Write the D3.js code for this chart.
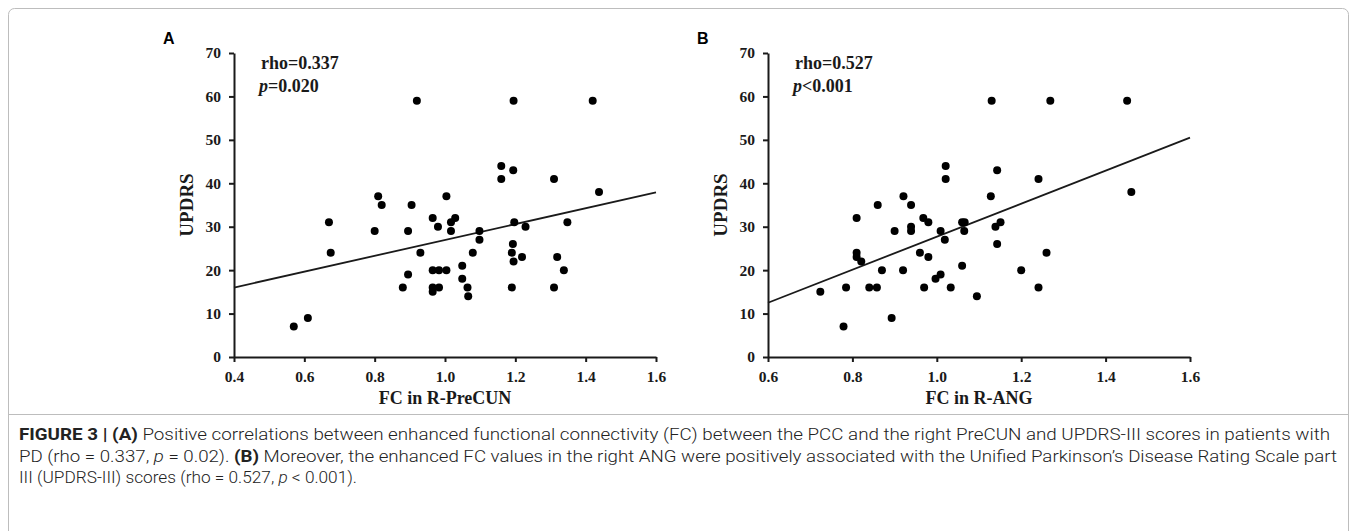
<!DOCTYPE html>
<html>
<head>
<meta charset="utf-8">
<script src="https://cdn.jsdelivr.net/npm/d3@7"></script>
<style>
  html, body { margin: 0; padding: 0; background: #fff; }
  svg { display: block; }
</style>
</head>
<body>
<svg id="chart" width="1357" height="531"></svg>
<script>
// ---------- DATA ----------
const panelLabels = ["A", "B"];
const xTitles = ["FC in R-PreCUN", "FC in R-ANG"];
const yTitle = "UPDRS";
const rhoTexts = ["rho=0.337", "rho=0.527"];
const pTexts = ["=0.020", "<0.001"];

const xTicksA = [0.4, 0.6, 0.8, 1.0, 1.2, 1.4, 1.6];
const xTicksB = [0.6, 0.8, 1.0, 1.2, 1.4, 1.6];
const yTicks = [0, 10, 20, 30, 40, 50, 60, 70];

// Panel A: FC in R-PreCUN vs UPDRS
const aX = [0.57, 0.61, 0.67, 0.675, 0.80, 0.81, 0.82, 0.88, 0.895, 0.895,
            0.905, 0.92, 0.93, 0.965, 0.98, 0.965, 0.983, 1.004, 0.965, 0.983,
            0.965, 1.004, 1.017, 1.029, 1.017, 1.049, 1.049, 1.064, 1.066, 1.079,
            1.098, 1.098, 1.16, 1.16, 1.195, 1.194, 1.197, 1.193, 1.19, 1.195,
            1.19, 1.219, 1.229, 1.31, 1.31, 1.319, 1.338, 1.348, 1.42, 1.438];
const aY = [7, 9, 31, 24, 29, 37, 35, 16, 29, 19,
            35, 59, 24, 32, 30, 20, 20, 20, 16, 16,
            15, 37, 31, 32, 29, 21, 18, 16, 14, 24,
            29, 27, 44, 41, 59, 43, 31, 26, 24, 22,
            16, 23, 30, 41, 16, 23, 20, 31, 59, 38];
const fitA = [[0.4, 16.0], [1.6, 37.9]];

// Panel B: FC in R-ANG vs UPDRS
const bX = [0.724, 0.779, 0.785, 0.81, 0.81, 0.81, 0.821, 0.84, 0.858, 0.86,
            0.87, 0.893, 0.90, 0.92, 0.921, 0.939, 0.939, 0.939, 0.96, 0.968,
            0.97, 0.98, 0.98, 0.997, 1.009, 1.009, 1.019, 1.021, 1.021, 1.033,
            1.06, 1.066, 1.065, 1.06, 1.095, 1.128, 1.13, 1.139, 1.151, 1.143,
            1.143, 1.20, 1.241, 1.241, 1.26, 1.269, 1.451, 1.461];
const bY = [15, 7, 16, 32, 24, 23, 22, 16, 16, 35,
            20, 9, 29, 20, 37, 35, 30, 29, 24, 32,
            16, 31, 23, 18, 19, 29, 27, 44, 41, 16,
            31, 31, 29, 21, 14, 37, 59, 30, 31, 43,
            26, 20, 41, 16, 24, 59, 59, 38];
const fitB = [[0.6, 12.5], [1.6, 50.5]];

const captionLines = [
  [{t: "FIGURE 3 | (A)", s: "b"}, {t: " Positive correlations between enhanced functional connectivity (FC) between the PCC and the right PreCUN and UPDRS-III scores in patients with"}],
  [{t: "PD (rho = 0.337, "}, {t: "p", s: "i"}, {t: " = 0.02). "}, {t: "(B)", s: "b"}, {t: " Moreover, the enhanced FC values in the right ANG were positively associated with the Unified Parkinson\u2019s Disease Rating Scale part"}],
  [{t: "III (UPDRS-III) scores (rho = 0.527, "}, {t: "p", s: "i"}, {t: " < 0.001)."}]
];

// ---------- DRAW ----------
const svg = d3.select("#chart");
const ink = "#1a1a1a";
const serif = "'Liberation Serif', 'Times New Roman', Times, serif";
const sans = "'Liberation Sans', Arial, Helvetica, sans-serif";
const capFont = "Roboto, 'Liberation Sans', Arial, sans-serif";

// frame
svg.append("rect").attr("x", 8.5).attr("y", 8.5).attr("width", 1340).attr("height", 540)
  .attr("rx", 6).attr("fill", "none").attr("stroke", "#bdbdbd").attr("stroke-width", 1);
svg.append("line").attr("x1", 8.5).attr("x2", 1348.5).attr("y1", 414.5).attr("y2", 414.5)
  .attr("stroke", "#bdbdbd").attr("stroke-width", 1);

const y = d3.scaleLinear().domain([0, 70]).range([357, 53]);

const panels = [
  {xs: aX, ys: aY, fit: fitA, ticks: xTicksA, dom: [0.4, 1.6], range: [234, 656]},
  {xs: bX, ys: bY, fit: fitB, ticks: xTicksB, dom: [0.6, 1.6], range: [768, 1190]}
];

panels.forEach((p, i) => {
  const x = d3.scaleLinear().domain(p.dom).range(p.range);
  const g = svg.append("g");
  const x0 = p.range[0];

  const ya = g.append("g").attr("transform", `translate(${x0},0)`)
    .call(d3.axisLeft(y).tickValues(yTicks).tickSize(5).tickSizeOuter(0).tickPadding(8).tickFormat(d3.format("d")));
  const xa = g.append("g").attr("transform", `translate(0,${y(0)})`)
    .call(d3.axisBottom(x).tickValues(p.ticks).tickSize(5).tickSizeOuter(0).tickPadding(9).tickFormat(d3.format(".1f")));

  [ya, xa].forEach(ax => {
    ax.select(".domain").attr("stroke", ink).attr("stroke-width", 2);
    ax.selectAll(".tick line").attr("stroke", ink).attr("stroke-width", 2);
    ax.selectAll(".tick text").attr("fill", ink)
      .style("font-family", serif).style("font-weight", "bold").style("font-size", "15.5px");
  });

  g.append("line")
    .attr("x1", x(p.fit[0][0])).attr("y1", y(p.fit[0][1]))
    .attr("x2", x(p.fit[1][0])).attr("y2", y(p.fit[1][1]))
    .attr("stroke", ink).attr("stroke-width", 1.8);

  g.selectAll("circle").data(p.xs.map((v, k) => [v, p.ys[k]])).enter().append("circle")
    .attr("cx", d => x(d[0])).attr("cy", d => y(d[1])).attr("r", 4).attr("fill", "#000");

  g.append("text").attr("x", x0 - 71).attr("y", 44).text(panelLabels[i])
    .style("font-family", sans).style("font-weight", "bold").style("font-size", "16px").attr("fill", "#000");

  g.append("text").attr("x", x0 + 27).attr("y", 69).text(rhoTexts[i])
    .style("font-family", serif).style("font-weight", "bold").style("font-size", "18px").attr("fill", ink);
  const pt = g.append("text").attr("x", x0 + 25).attr("y", 91.5)
    .style("font-family", serif).style("font-weight", "bold").style("font-size", "18px").attr("fill", ink);
  pt.append("tspan").style("font-style", "italic").text("p");
  pt.append("tspan").text(pTexts[i]);

  g.append("text").attr("x", (p.range[0] + p.range[1]) / 2).attr("y", 404).attr("text-anchor", "middle")
    .text(xTitles[i]).style("font-family", serif).style("font-weight", "bold").style("font-size", "18px").attr("fill", ink);
  g.append("text").attr("transform", `translate(${x0 - 41},${(y(0) + y(70)) / 2}) rotate(-90)`)
    .attr("text-anchor", "middle").text(yTitle)
    .style("font-family", serif).style("font-weight", "bold").style("font-size", "19px").attr("fill", ink);
});

// caption
const capY = [440, 461.5, 483];
const capW = [1311, 1318, 338];
captionLines.forEach((line, i) => {
  const t = svg.append("text").attr("x", 19).attr("y", capY[i])
    .attr("textLength", capW[i]).attr("lengthAdjust", "spacingAndGlyphs")
    .style("font-family", capFont).style("font-weight", "300").style("font-size", "16px").attr("fill", "#222");
  line.forEach(seg => {
    const ts = t.append("tspan").text(seg.t);
    if (seg.s === "b") ts.style("font-weight", "bold");
    if (seg.s === "i") ts.style("font-style", "italic");
  });
});
</script>
</body>
</html>
